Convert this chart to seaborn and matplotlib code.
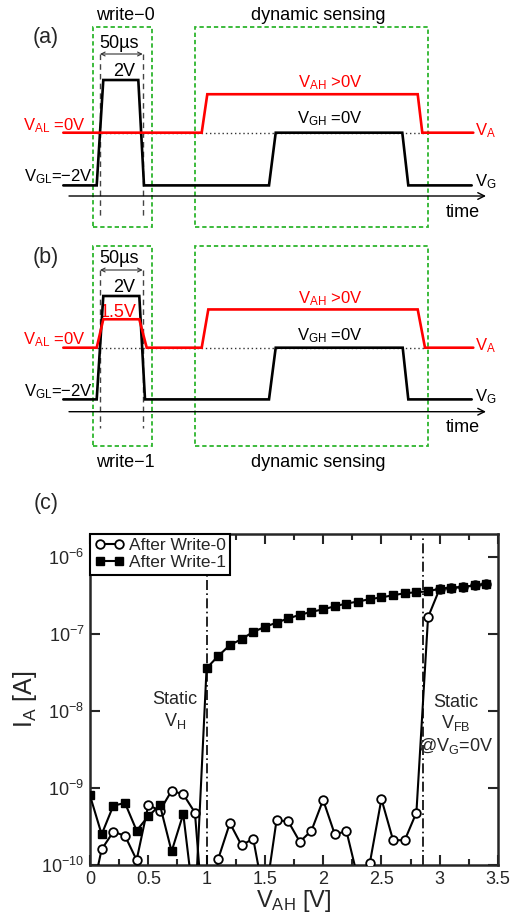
import matplotlib
matplotlib.use('Agg')
import matplotlib.pyplot as plt
import seaborn as sns
import pandas as pd
from matplotlib.patches import Rectangle
from matplotlib.ticker import FixedLocator, FixedFormatter, NullLocator

# ---------------- data: panel (c) ----------------
v_ah = [0.0, 0.1, 0.2, 0.3, 0.4, 0.5, 0.6, 0.7, 0.8, 0.9,
        1.0, 1.1, 1.2, 1.3, 1.4, 1.5, 1.6, 1.7, 1.8, 1.9,
        2.0, 2.1, 2.2, 2.3, 2.4, 2.5, 2.6, 2.7, 2.8, 2.9,
        3.0, 3.1, 3.2, 3.3, 3.4]
i_write0 = [3.2e-11, 1.6e-10, 2.7e-10, 2.4e-10, 1.16e-10, 6.0e-10, 5.1e-10, 9.2e-10, 8.3e-10, 4.8e-10,
            6e-12, 1.2e-10, 3.5e-10, 1.8e-10, 2.2e-10, 3.4e-11, 3.8e-10, 3.7e-10, 2.0e-10, 2.8e-10,
            7.0e-10, 2.5e-10, 2.75e-10, 6.5e-11, 1.05e-10, 7.2e-10, 2.1e-10, 2.1e-10, 4.8e-10, 1.66e-7,
            3.9e-7, 4.0e-7, 4.1e-7, 4.3e-7, 4.5e-7]
i_write1 = [8e-10, 2.5e-10, 5.9e-10, 6.4e-10, 2.8e-10, 4.3e-10, 6.0e-10, 1.5e-10, 4.6e-10, 2.5e-11,
            3.6e-8, 5.2e-8, 7.2e-8, 8.6e-8, 1.07e-7, 1.24e-7, 1.41e-7, 1.6e-7, 1.78e-7, 1.95e-7,
            2.1e-7, 2.3e-7, 2.5e-7, 2.65e-7, 2.85e-7, 3.0e-7, 3.2e-7, 3.4e-7, 3.5e-7, 3.6e-7,
            3.9e-7, 4.0e-7, 4.1e-7, 4.3e-7, 4.5e-7]
series_names = ['After Write-0', 'After Write-1']
v_static_h = 1.0
v_static_fb = 2.855
x_ticks = [0, 0.5, 1, 1.5, 2, 2.5, 3, 3.5]
x_tick_labels = ['0', '0.5', '1', '1.5', '2', '2.5', '3', '3.5']
y_ticks = [1e-10, 1e-9, 1e-8, 1e-7, 1e-6]
y_tick_labels = [r'$\mathregular{10^{-10}}$', r'$\mathregular{10^{-9}}$', r'$\mathregular{10^{-8}}$',
                 r'$\mathregular{10^{-7}}$', r'$\mathregular{10^{-6}}$']

# ---------------- data: panels (a), (b) waveforms (time in a.u., voltage in V) ----------------
vg_t_a = [63.3, 96.7, 103.3, 138.3, 144.0, 269.0, 275.7, 402.3, 408.3, 471.7]
vg_v_a = [-2, -2, 2, 2, -2, -2, 0, 0, -2, -2]
va_t_a = [63.3, 201.7, 207.3, 417.7, 422.3, 473.3]
va_v_a = [0, 0, 1.46, 1.46, 0, 0]

vg_t_b = [63.3, 96.7, 103.3, 139.3, 145.0, 269.0, 275.7, 402.7, 408.3, 471.7]
vg_v_b = [-2, -2, 2, 2, -2, -2, 0, 0, -2, -2]
va_t_b = [63.3, 96.7, 103.3, 139.3, 146.7, 201.7, 208.3, 417.7, 425.0, 473.3]
va_v_b = [0, 0, 1.1, 1.1, 0, 0, 1.48, 1.48, 0, 0]

pulse_edges = [100.0, 142.7]          # 50 us window markers
write_box = [93.0, 152.0]
sense_box = [195.0, 428.0]

# ---------------- style ----------------
sns.set_style('ticks')
plt.rcParams['font.family'] = ['Liberation Sans', 'DejaVu Sans']
plt.rcParams['mathtext.fontset'] = 'custom'
plt.rcParams['mathtext.rm'] = 'Liberation Sans'
plt.rcParams['mathtext.it'] = 'Liberation Sans:italic'
plt.rcParams['mathtext.bf'] = 'Liberation Sans:bold'

W, H = 520, 918
fig = plt.figure(figsize=(W / 100, H / 100), dpi=100)
GREEN = '#2db52d'
RED = '#ff0000'
FS = 13
FS_SUB = 12


def make_band(top, bot, zero, scale):
    ax = fig.add_axes([0, 1 - bot / H, 1, (bot - top) / H])
    ax.set_xlim(0, W)
    ax.set_ylim((zero - bot) / scale, (zero - top) / scale)
    ax.axis('off')

    def to_v(p):
        return (zero - p) / scale
    return ax, to_v


def draw_timing(ax, to_v, tg, vg, ta, va, box_top, box_bot, dash_top, dash_bot, axis_y, txt):
    # green dashed boxes
    for x0, x1 in (write_box, sense_box):
        ax.add_patch(Rectangle((x0, to_v(box_bot)), x1 - x0, to_v(box_top) - to_v(box_bot),
                               fill=False, ec=GREEN, lw=1.3, ls=(0, (2.4, 1.6)), zorder=1))
    # 50us window markers
    for x in pulse_edges:
        ax.plot([x, x], [to_v(dash_top), to_v(dash_bot)], color='#444444', lw=1.0,
                ls=(0, (4, 3)), zorder=2)
    ax.annotate('', xy=(pulse_edges[1], to_v(dash_top)), xytext=(pulse_edges[0], to_v(dash_top)),
                arrowprops=dict(arrowstyle='<->', lw=0.8, color='#333333', mutation_scale=7,
                                shrinkA=0, shrinkB=0))
    # dotted 0 V reference
    ax.plot([96.7, 425.0], [0, 0], color='#333333', lw=1.0, ls=(0, (1, 2)), zorder=2)
    # time axis
    ax.annotate('', xy=(486, to_v(axis_y)), xytext=(69, to_v(axis_y)),
                arrowprops=dict(arrowstyle='->', lw=1.0, color='black', mutation_scale=12,
                                shrinkA=0, shrinkB=0))
    # waveforms
    ax.plot(tg, vg, color='black', lw=1.9, zorder=4, solid_joinstyle='miter')
    ax.plot(ta, va, color=RED, lw=1.9, zorder=5, solid_joinstyle='miter')
    # labels (y = text baseline in pixels)
    for (x, y, s, c, ha, fs) in txt:
        ax.text(x, to_v(y), s, color=c, ha=ha, va='baseline', fontsize=fs)


# panel (a)
ax_a, va_a = make_band(0, 232, 132.7, 26.35)
txt_a = [
    (86, 130.5, r'$\mathregular{V_{AL}}$ =0V', RED, 'right', FS_SUB),
    (93, 181.5, r'$\mathregular{V_{GL}}$=−2V', 'black', 'right', FS_SUB),
    (330, 87.3, r'$\mathregular{V_{AH}}$ >0V', RED, 'center', FS_SUB),
    (330, 123.3, r'$\mathregular{V_{GH}}$ =0V', 'black', 'center', FS_SUB),
    (475, 135, r'$\mathregular{V_{A}}$', RED, 'left', FS_SUB),
    (475, 186.7, r'$\mathregular{V_{G}}$', 'black', 'left', FS_SUB),
    (463, 216.7, 'time', 'black', 'center', FS),
    (124, 76, '2V', 'black', 'center', FS),
    (119, 48, '50µs', 'black', 'center', FS),
    (125, 20, 'write−0', 'black', 'center', FS),
    (318, 20, 'dynamic sensing', 'black', 'center', FS),
]
draw_timing(ax_a, va_a, vg_t_a, vg_v_a, va_t_a, va_v_a, 27, 227, 54, 218, 196, txt_a)

# panel (b)
ax_b, va_b = make_band(232, 475, 347.7, 25.85)
txt_b = [
    (86, 344, r'$\mathregular{V_{AL}}$ =0V', RED, 'right', FS_SUB),
    (93, 396.7, r'$\mathregular{V_{GL}}$=−2V', 'black', 'right', FS_SUB),
    (330, 303.3, r'$\mathregular{V_{AH}}$ >0V', RED, 'center', FS_SUB),
    (330, 340, r'$\mathregular{V_{GH}}$ =0V', 'black', 'center', FS_SUB),
    (475, 350, r'$\mathregular{V_{A}}$', RED, 'left', FS_SUB),
    (475, 401.7, r'$\mathregular{V_{G}}$', 'black', 'left', FS_SUB),
    (463, 431.7, 'time', 'black', 'center', FS),
    (124, 291.7, '2V', 'black', 'center', FS),
    (118, 316.7, '1.5V', RED, 'center', FS),
    (119, 263.3, '50µs', 'black', 'center', FS),
    (125, 466.7, 'write−1', 'black', 'center', FS),
    (318, 466.7, 'dynamic sensing', 'black', 'center', FS),
]
draw_timing(ax_b, va_b, vg_t_b, vg_v_b, va_t_b, va_v_b, 246, 446, 270, 428, 411.7, txt_b)

# panel labels
fig.text(46 / W, 1 - 38 / H, '(a)', ha='center', va='center', fontsize=15.5)
fig.text(46 / W, 1 - 258 / H, '(b)', ha='center', va='center', fontsize=15.5)
fig.text(46 / W, 1 - 503 / H, '(c)', ha='center', va='center', fontsize=15.5)

# ---------------- panel (c) ----------------
ax = fig.add_axes([90 / W, 1 - 865 / H, 408 / W, 331 / H])
ax.set_yscale('log')
df0 = pd.DataFrame({'V': v_ah, 'I': i_write0})
df1 = pd.DataFrame({'V': v_ah, 'I': i_write1})
sns.lineplot(data=df0, x='V', y='I', ax=ax, color='black', lw=1.5, marker='o', ms=6.2,
             mfc='white', mec='black', mew=1.3, estimator=None, sort=False, label=series_names[0],
             legend=False, zorder=3)
sns.lineplot(data=df1, x='V', y='I', ax=ax, color='black', lw=1.5, marker='s', ms=5.6,
             mfc='black', mec='black', mew=1.0, estimator=None, sort=False, label=series_names[1],
             legend=False, zorder=4)
for xv in (v_static_h, v_static_fb):
    ax.axvline(xv, color='black', lw=1.2, ls=(0, (6, 2, 1, 2)), zorder=2)

ax.set_xlim(0, 3.5)
ax.set_ylim(1e-10, 2.0e-6)
ax.xaxis.set_major_locator(FixedLocator(x_ticks))
ax.xaxis.set_major_formatter(FixedFormatter(x_tick_labels))
ax.xaxis.set_minor_locator(FixedLocator([0.25, 0.75, 1.25, 1.75, 2.25, 2.75, 3.25]))
ax.yaxis.set_major_locator(FixedLocator(y_ticks))
ax.yaxis.set_major_formatter(FixedFormatter(y_tick_labels))
ax.yaxis.set_minor_locator(NullLocator())
ax.tick_params(which='both', direction='in', top=True, right=True, width=1.5, labelsize=13)
ax.tick_params(which='major', length=7, pad=4)
ax.tick_params(which='minor', length=4)
for sp in ax.spines.values():
    sp.set_linewidth(1.8)
    sp.set_visible(True)
ax.set_xlabel(r'$\mathregular{V_{AH}}$ [V]', fontsize=17, labelpad=0)
ax.set_ylabel(r'$\mathregular{I_{A}}$ [A]', fontsize=18, labelpad=2)

ax.text(0.73, 1.0e-8, 'Static\n' + r'$\mathregular{V_{H}}$', ha='center', va='center',
        fontsize=FS, linespacing=1.15)
ax.text(3.14, 6.6e-9, 'Static\n' + r'$\mathregular{V_{FB}}$' + '\n' + r'@$\mathregular{V_{G}}$=0V',
        ha='center', va='center', fontsize=FS, linespacing=1.15)

leg = ax.legend(loc='upper left', borderaxespad=0, numpoints=2, handlelength=1.7,
                handletextpad=0.3, borderpad=0.25, labelspacing=0.1, fontsize=12.5,
                fancybox=False, framealpha=1, edgecolor='black')
leg.get_frame().set_linewidth(1.5)
leg.set_zorder(10)

fig.savefig('out.png', dpi=100)
